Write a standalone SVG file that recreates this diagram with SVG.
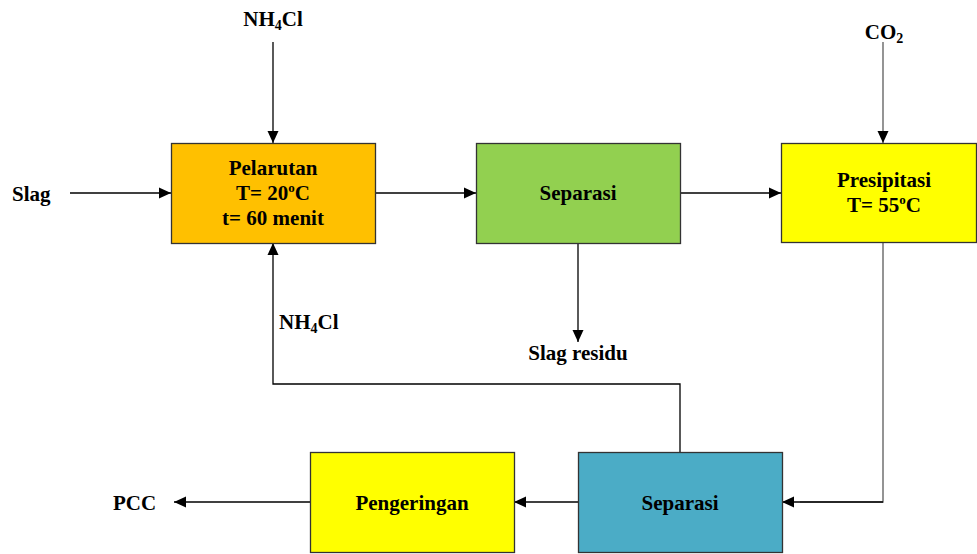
<svg xmlns="http://www.w3.org/2000/svg" width="977" height="554" viewBox="0 0 977 554">
  <style>
    .box { stroke: #333; stroke-width: 1.3; }
    .lbl { font-family: "Liberation Serif", "Times New Roman", serif; font-weight: bold; font-size: 21px; fill: #000; }
    .mid { text-anchor: middle; }
    .ln { fill: none; stroke: #000; stroke-width: 1.3; }
    .ln.gray { stroke: #7a7a7a; stroke-width: 1.6; }
  </style>
  <defs>
    <marker id="arrow" markerUnits="userSpaceOnUse" markerWidth="12" markerHeight="12" refX="12" refY="6" orient="auto">
      <path d="M0,0.5 L12,6 L0,11.5 z" fill="#000"/>
    </marker>
  </defs>
  <rect width="977" height="554" fill="#fff"/>

  <!-- connectors -->
  <g id="connectors">
    <line class="ln" x1="273" y1="42" x2="273" y2="143" marker-end="url(#arrow)"/>
    <line class="ln" x1="70" y1="193" x2="171" y2="193" marker-end="url(#arrow)"/>
    <line class="ln" x1="375" y1="193" x2="476" y2="193" marker-end="url(#arrow)"/>
    <line class="ln" x1="681" y1="193" x2="781" y2="193" marker-end="url(#arrow)"/>
    <line class="ln gray" x1="883" y1="42" x2="883" y2="143" marker-end="url(#arrow)"/>
    <line class="ln" x1="578" y1="243" x2="578" y2="342" marker-end="url(#arrow)"/>
    <polyline class="ln gray" points="883,243 883,502 800,502"/>
    <line class="ln" x1="883" y1="502" x2="782" y2="502" marker-end="url(#arrow)"/>
    <polyline class="ln" points="680,452 680,384 273,384 273,243" marker-end="url(#arrow)"/>
    <line class="ln" x1="578" y1="502" x2="514" y2="502" marker-end="url(#arrow)"/>
    <line class="ln" x1="310" y1="502" x2="174" y2="502" marker-end="url(#arrow)"/>
  </g>

  <!-- stream labels -->
  <g id="labels">
    <text class="lbl mid" x="273" y="26">NH<tspan font-size="14" dy="4">4</tspan><tspan dy="-4">Cl</tspan></text>
    <text class="lbl mid" x="884" y="39">CO<tspan font-size="14" dy="4">2</tspan></text>
    <text class="lbl" x="12" y="201">Slag</text>
    <text class="lbl mid" x="578" y="360">Slag residu</text>
    <text class="lbl" x="279" y="329">NH<tspan font-size="14" dy="4">4</tspan><tspan dy="-4">Cl</tspan></text>
    <text class="lbl" x="113" y="510">PCC</text>
  </g>

  <!-- process units -->
  <g id="pelarutan">
    <rect class="box" x="171.5" y="143.5" width="204" height="100" fill="#FFC000"/>
    <text class="lbl mid" x="273" y="175">Pelarutan</text>
    <text class="lbl mid" x="273" y="200">T= 20<tspan font-size="13" dy="-8">o</tspan><tspan dy="8">C</tspan></text>
    <text class="lbl mid" x="273" y="225">t= 60 menit</text>
  </g>
  <g id="separasi-1">
    <rect class="box" x="476.5" y="143.5" width="204" height="100" fill="#92D050"/>
    <text class="lbl mid" x="578" y="200">Separasi</text>
  </g>
  <g id="presipitasi">
    <rect class="box" x="781.5" y="143.5" width="195" height="99" fill="#FFFF00"/>
    <text class="lbl mid" x="884" y="187">Presipitasi</text>
    <text class="lbl mid" x="884" y="212">T= 55<tspan font-size="13" dy="-8">o</tspan><tspan dy="8">C</tspan></text>
  </g>
  <g id="separasi-2">
    <rect class="box" x="578.5" y="452.5" width="204" height="100" fill="#4BACC6"/>
    <text class="lbl mid" x="680" y="510">Separasi</text>
  </g>
  <g id="pengeringan">
    <rect class="box" x="310.5" y="452.5" width="204" height="100" fill="#FFFF00"/>
    <text class="lbl mid" x="412" y="510">Pengeringan</text>
  </g>
</svg>
